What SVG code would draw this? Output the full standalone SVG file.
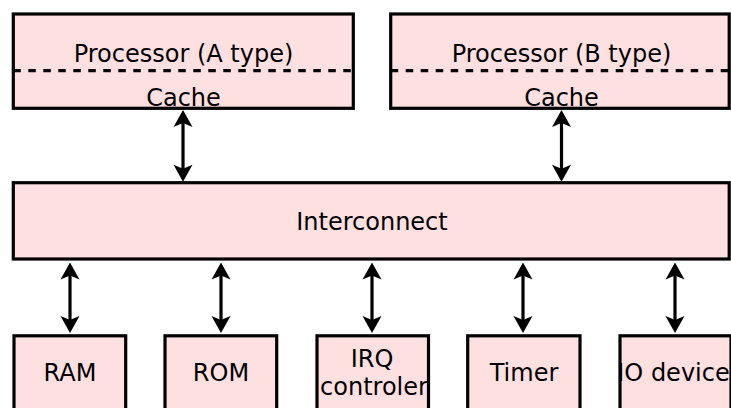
<svg xmlns="http://www.w3.org/2000/svg" width="731" height="408" viewBox="0 0 731 408">
<style>
.box{fill:#ffe0e0;stroke:#000;stroke-width:3.2}
.dash{stroke:#000;stroke-width:3.2;stroke-dasharray:7.5 7.5;fill:none}
.lbl{font-family:"DejaVu Sans",sans-serif;font-size:24px;fill:#000;text-anchor:middle}
.conn{stroke:#000;stroke-width:3.2;fill:none;marker-start:url(#ah);marker-end:url(#ah)}
</style>
<defs>
<marker id="ah" markerUnits="userSpaceOnUse" viewBox="0 -10 20 20" refX="12" refY="0" markerWidth="20" markerHeight="20" orient="auto-start-reverse" overflow="visible">
<path d="M20,0 L3,-9.5 L7,0 L3,9.5 Z" fill="#000"/>
</marker>
</defs>
<g id="procA">
<rect class="box" x="13.3" y="14" width="340" height="94.3"/>
<line class="dash" x1="13.3" y1="70.7" x2="353.3" y2="70.7"/>
<text class="lbl" x="183.5" y="62">Processor (A type)</text>
<text class="lbl" x="183.5" y="106">Cache</text>
</g>
<g id="procB">
<rect class="box" x="390.7" y="14" width="338.5" height="94.3"/>
<line class="dash" x1="390.7" y1="70.7" x2="729.2" y2="70.7"/>
<text class="lbl" x="561.5" y="62">Processor (B type)</text>
<text class="lbl" x="561.5" y="106">Cache</text>
</g>
<g id="interconnect">
<rect class="box" x="13.3" y="182.7" width="715.9" height="76.3"/>
<text class="lbl" x="372" y="230">Interconnect</text>
</g>
<g id="ram">
<rect class="box" x="14" y="335.8" width="111.7" height="90"/>
<text class="lbl" x="70" y="381">RAM</text>
</g>
<g id="rom">
<rect class="box" x="165" y="335.8" width="111.7" height="90"/>
<text class="lbl" x="221" y="381">ROM</text>
</g>
<g id="irq">
<rect class="box" x="317" y="335.8" width="111.5" height="90"/>
<text class="lbl" x="372" y="366.5">IRQ</text>
<text class="lbl" x="374" y="394.5">controler</text>
</g>
<g id="timer">
<rect class="box" x="467.7" y="335.8" width="112.3" height="90"/>
<text class="lbl" x="524" y="381">Timer</text>
</g>
<g id="io">
<rect class="box" x="620" y="335.8" width="111" height="90"/>
<text class="lbl" x="673.5" y="381">IO device</text>
</g>
<g id="connectors">
<line class="conn" x1="183" y1="118" x2="183" y2="173.7"/>
<line class="conn" x1="561.5" y1="118" x2="561.5" y2="173.7"/>
<line class="conn" x1="70" y1="270.5" x2="70" y2="325"/>
<line class="conn" x1="221" y1="270.5" x2="221" y2="325"/>
<line class="conn" x1="372" y1="270.5" x2="372" y2="325"/>
<line class="conn" x1="523" y1="270.5" x2="523" y2="325"/>
<line class="conn" x1="675" y1="270.5" x2="675" y2="325"/>
</g>
</svg>
